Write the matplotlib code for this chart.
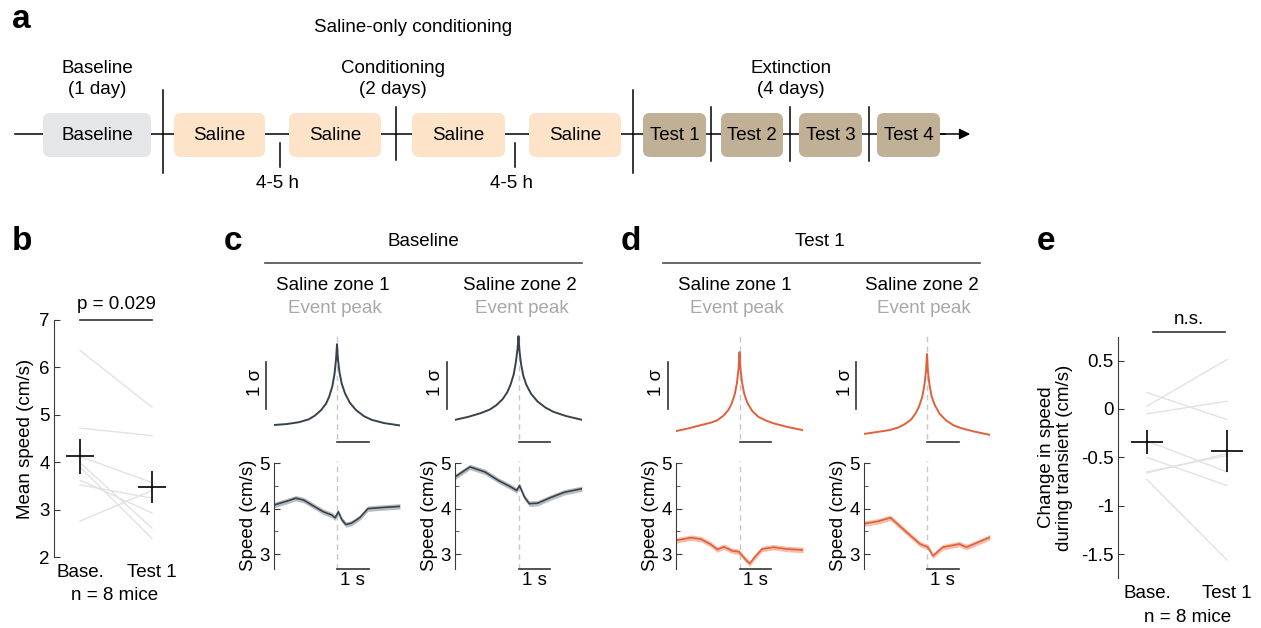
import matplotlib
matplotlib.use("Agg")
import matplotlib.pyplot as plt
from matplotlib.patches import FancyBboxPatch
import numpy as np

plt.rcParams['font.family'] = ['Liberation Sans', 'DejaVu Sans']
plt.rcParams['font.size'] = 13.5

W, H = 1261, 628

# ---------------- data ----------------
# panel a: schedule
stage_labels = ["Baseline", "Saline", "Saline", "Saline", "Saline",
                "Test 1", "Test 2", "Test 3", "Test 4"]
stage_kind = ["base", "saline", "saline", "saline", "saline",
              "test", "test", "test", "test"]
phase_titles = ["Baseline\n(1 day)", "Conditioning\n(2 days)", "Extinction\n(4 days)"]
gap_label = "4-5 h"
schedule_title = "Saline-only conditioning"

# panel b: mean speed per mouse (cm/s)
speed_base = [6.36, 4.72, 4.12, 3.99, 3.90, 3.62, 3.52, 2.76]
speed_test1 = [5.16, 4.56, 3.57, 2.61, 2.39, 2.93, 3.24, 3.40]
p_text_b = "p = 0.029"

# panel e: change in speed during transient (cm/s)
dspeed_base = [0.03, 0.17, -0.05, -0.33, -0.50, -0.66, -0.73, -0.65]
dspeed_test1 = [0.51, -0.11, 0.08, -0.65, -0.79, -0.46, -1.56, -0.48]
p_text_e = "n.s."

group_labels = ["Base.", "Test 1"]
n_text = "n = 8 mice"

# panels c, d: event-triggered calcium (sigma), time in s
sig_t = [-2.0, -1.6, -1.2, -0.9, -0.7, -0.5, -0.35, -0.25, -0.15, -0.08, -0.03, 0.0,
         0.03, 0.08, 0.15, 0.25, 0.4, 0.6, 0.85, 1.1, 1.5, 2.0]
c1_sig = [0.0, 0.02, 0.06, 0.12, 0.20, 0.32, 0.45, 0.60, 0.82, 1.08, 1.40, 1.72,
          1.40, 1.12, 0.88, 0.68, 0.48, 0.32, 0.19, 0.11, 0.04, -0.01]
c2_sig = [0.11, 0.17, 0.25, 0.33, 0.42, 0.55, 0.70, 0.86, 1.08, 1.35, 1.62, 1.89,
          1.58, 1.30, 1.05, 0.85, 0.66, 0.50, 0.37, 0.28, 0.19, 0.11]
d1_sig = [-0.13, -0.07, 0.0, 0.05, 0.10, 0.20, 0.32, 0.45, 0.65, 0.90, 1.20, 1.55,
          1.20, 0.90, 0.66, 0.47, 0.30, 0.17, 0.09, 0.03, -0.04, -0.11]
d2_sig = [-0.19, -0.15, -0.11, -0.05, 0.02, 0.12, 0.26, 0.40, 0.60, 0.86, 1.16, 1.51,
          1.14, 0.85, 0.60, 0.42, 0.24, 0.10, -0.01, -0.07, -0.14, -0.21]

# speed around the event (cm/s)
c1_spd_t = [-2.0, -1.57, -1.31, -1.06, -0.75, -0.43, -0.17, -0.06, 0.04, 0.15, 0.28, 0.46, 0.72, 0.98, 1.34, 2.0]
c1_spd = [4.08, 4.17, 4.23, 4.19, 4.06, 3.93, 3.86, 3.80, 3.93, 3.76, 3.65, 3.68, 3.80, 4.00, 4.02, 4.05]
c2_spd_t = [-2.0, -1.53, -1.06, -0.63, -0.22, -0.06, 0.03, 0.19, 0.34, 0.6, 1.03, 1.44, 2.0]
c2_spd = [4.70, 4.92, 4.81, 4.62, 4.47, 4.40, 4.51, 4.25, 4.11, 4.12, 4.25, 4.36, 4.44]
d1_spd_t = [-2.0, -1.53, -1.22, -0.9, -0.7, -0.49, -0.23, -0.02, 0.19, 0.32, 0.5, 0.71, 1.07, 1.49, 2.0]
d1_spd = [3.30, 3.36, 3.33, 3.21, 3.10, 3.16, 3.07, 3.05, 2.88, 2.79, 2.95, 3.11, 3.15, 3.11, 3.09]
d2_spd_t = [-2.0, -1.56, -1.16, -0.63, -0.22, 0.03, 0.19, 0.5, 1.03, 1.25, 2.0]
d2_spd = [3.67, 3.72, 3.80, 3.47, 3.22, 3.15, 2.96, 3.15, 3.22, 3.15, 3.37]
c_spd_sem = 0.06
d_spd_sem = 0.06

zone_titles = ["Saline zone 1", "Saline zone 2"]
session_titles = ["Baseline", "Test 1"]

# ---------------- styles / layout ----------------
box_colors = {"base": "#e5e6e7", "saline": "#fde4c9", "test": "#c0b196"}
c_line, c_band = "#36434e", "#9ea6ac"
d_line, d_band = "#e0603b", "#f3a88d"
dash_col = "#c8c8c8"
ind_col = "#e2e2e2"
spine_col = "#3a3a3a"

fig = plt.figure(figsize=(W / 100, H / 100), dpi=100)


def px_axes(x0, y0, x1, y1):
    return fig.add_axes([x0 / W, 1 - y1 / H, (x1 - x0) / W, (y1 - y0) / H])


def ftext(x, y, s, **kw):
    kw.setdefault("ha", "center")
    kw.setdefault("va", "center")
    fig.text(x / W, 1 - y / H, s, **kw)


# ---------------- panel a ----------------
ax_a = px_axes(0, 0, W, 200)
ax_a.set_xlim(0, W)
ax_a.set_ylim(200, 0)
ax_a.axis("off")

box_left = [43, 174, 289, 412, 529, 643, 721, 799, 877]
box_right = [151, 265, 381, 505, 621, 706, 783, 862, 940]
line_y = 134
ax_a.plot([15, 945], [line_y, line_y], color="black", lw=1.1, zorder=1)
ax_a.annotate("", xy=(973, line_y), xytext=(938, line_y),
              arrowprops=dict(arrowstyle="-|>", color="black", lw=1.1, mutation_scale=16))
for lft, rgt, kind, lab in zip(box_left, box_right, stage_kind, stage_labels):
    ax_a.add_patch(FancyBboxPatch((lft, 113), rgt - lft, 44,
                                  boxstyle="round,pad=0,rounding_size=7",
                                  fc=box_colors[kind], ec="none", zorder=2))
    ax_a.text((lft + rgt) / 2, 135, lab, ha="center", va="center", zorder=3)

sep_x = [163, 396, 633, 711, 790, 869]
sep_y = [(90, 173), (107, 160), (90, 173), (107, 161), (107, 161), (107, 161)]
for x, (y0, y1) in zip(sep_x, sep_y):
    ax_a.plot([x, x], [y0, y1], color="black", lw=1.1, zorder=4)
for x in [280, 515]:
    ax_a.plot([x, x], [143, 167], color="black", lw=1.1)
    ax_a.text(x - 3, 184, gap_label, ha="center", va="center")
for x, t in zip([97, 393, 791], phase_titles):
    ax_a.text(x, 79, t, ha="center", va="center", linespacing=1.25)
ax_a.text(413, 27, schedule_title, ha="center", va="center")

# ---------------- panel labels ----------------
for x, y, s in [(12, 20, "a"), (12, 241, "b"), (224, 241, "c"), (621, 241, "d"), (1037, 241, "e")]:
    ftext(x, y, s, ha="left", fontsize=24, fontweight="bold")


def paired_panel(ax, base, test, ylim, yticks, yticklabels, star_y, star_x):
    base = np.asarray(base)
    test = np.asarray(test)
    for b, t in zip(base, test):
        ax.plot([0, 1], [b, t], color=ind_col, lw=1.0, zorder=1)
    for x, vals in [(0, base), (1, test)]:
        m = vals.mean()
        sem = vals.std(ddof=1) / np.sqrt(len(vals))
        ax.errorbar([x], [m], xerr=0.2, yerr=sem, color="black", lw=1.2,
                    capsize=0, zorder=3)
    ax.set_ylim(*ylim)
    ax.set_yticks(yticks)
    ax.set_yticklabels(yticklabels)
    ax.set_xticks([0, 1])
    ax.set_xticklabels(group_labels)
    for s in ["top", "right", "bottom"]:
        ax.spines[s].set_visible(False)
    ax.spines["left"].set_color(spine_col)
    ax.tick_params(axis="y", direction="in", length=4, color=spine_col, pad=3)
    ax.tick_params(axis="x", length=0, pad=5)
    ax.plot(star_x, [star_y, star_y], color="#333333", lw=1.2, clip_on=False)


# ---------------- panel b ----------------
ax_b = px_axes(54, 320, 180, 557)
ax_b.set_xlim(-0.361, 1.389)
paired_panel(ax_b, speed_base, speed_test1, (2, 7), range(2, 8),
             [str(v) for v in range(2, 8)], 7.0, [0, 1])
ax_b.text(0.5, 7.33, p_text_b, ha="center", va="center")
ax_b.set_ylabel("Mean speed (cm/s)", labelpad=4)
ftext(115, 596, n_text)

# ---------------- panel e ----------------
ax_e = px_axes(1118, 337, 1255, 578)
ax_e.set_xlim(-0.3625, 1.35)
paired_panel(ax_e, dspeed_base, dspeed_test1, (-1.745, 0.743),
             [-1.5, -1, -0.5, 0, 0.5], ["-1.5", "-1", "-0.5", "0", "0.5"],
             0.795, [0.08, 0.98])
ax_e.text(0.53, 0.92, p_text_e, ha="center", va="center")
ax_e.set_ylabel("Change in speed\nduring transient (cm/s)", labelpad=6, linespacing=1.1)
ftext(1188, 617, n_text)


# ---------------- panels c, d ----------------
def trace_pair(x0, x1, sig, spd_t, spd, sem, line_col, band_col):
    # calcium transient
    ax_t = px_axes(x0, 330, x1, 450)
    ax_t.set_xlim(-2, 2)
    ax_t.set_ylim(-0.532, 2.021)
    ax_t.axis("off")
    ax_t.plot([0, 0], [-0.3, 1.95], color=dash_col, lw=1.0, ls=(0, (4, 3)), zorder=1)
    ax_t.plot(sig_t, sig, color=line_col, lw=1.4, zorder=2)
    ax_t.plot([0, 1], [-0.36, -0.36], color="#333333", lw=1.2, clip_on=False)
    ax_t.plot([-2.25, -2.25], [0.35, 1.35], color="#333333", lw=1.2, clip_on=False)
    ax_t.text(-2.6, 0.9, "1 σ", rotation=90, ha="center", va="center")

    # speed
    ax_s = px_axes(x0, 461, x1, 569)
    ax_s.set_xlim(-2, 2)
    ylo = 2.67
    ax_s.set_ylim(ylo, 5.05)
    spd = np.asarray(spd)
    ax_s.fill_between(spd_t, spd - sem, spd + sem, color=band_col, alpha=0.75, lw=0)
    ax_s.plot(spd_t, spd, color=line_col, lw=1.2)
    ax_s.axvline(0, color=dash_col, lw=1.0, ls=(0, (4, 3)), zorder=0)
    for s in ["top", "right", "bottom"]:
        ax_s.spines[s].set_visible(False)
    ax_s.spines["left"].set_bounds(ylo, 5.0)
    ax_s.spines["left"].set_color(spine_col)
    ax_s.set_xticks([])
    ax_s.set_yticks([3, 4, 5])
    ax_s.set_yticks([3.5, 4.5], minor=True)
    ax_s.tick_params(axis="y", which="both", direction="in", color=spine_col, pad=3)
    ax_s.tick_params(axis="y", which="major", length=4)
    ax_s.tick_params(axis="y", which="minor", length=3)
    ax_s.set_ylabel("Speed (cm/s)", labelpad=2)
    ax_s.plot([0, 1], [ylo, ylo], color="#333333", lw=1.2, clip_on=False)
    ax_s.annotate("1 s", (0.5, ylo), xytext=(0, -2), textcoords="offset points",
                  ha="center", va="top")


trace_pair(274, 400, c1_sig, c1_spd_t, c1_spd, c_spd_sem, c_line, c_band)
trace_pair(455, 582, c2_sig, c2_spd_t, c2_spd, c_spd_sem, c_line, c_band)
trace_pair(676, 803, d1_sig, d1_spd_t, d1_spd, d_spd_sem, d_line, d_band)
trace_pair(864, 990, d2_sig, d2_spd_t, d2_spd, d_spd_sem, d_line, d_band)

# headers for c, d
for (xa, xb, cx), title in zip([(265, 582, 423), (663, 980, 820)], session_titles):
    ftext(cx, 242, title)
    fig.add_artist(plt.Line2D([xa / W, xb / W], [1 - 263 / H, 1 - 263 / H],
                              color="#4d4d4d", lw=1.2))
for cx, title in zip([333, 520, 735, 922], zone_titles * 2):
    ftext(cx, 285, title)
    ftext(cx + 2, 309, "Event peak", color="#a8a8a8")

fig.savefig("out.png", dpi=100)
